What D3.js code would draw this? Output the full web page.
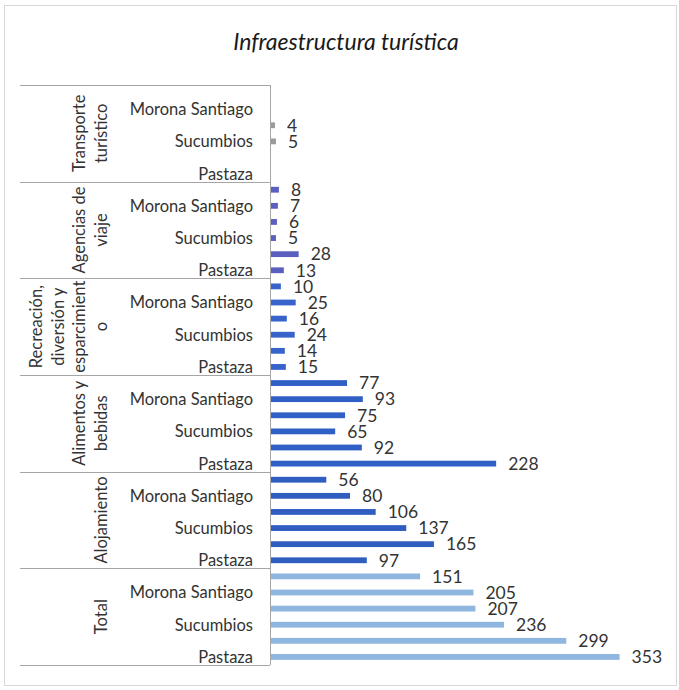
<!DOCTYPE html>
<html>
<head>
<meta charset="utf-8">
<script src="https://cdn.jsdelivr.net/npm/d3@7"></script>
<style>
  html, body { margin: 0; padding: 0; background: #fff; }
  svg { display: block; font-family: Lato, "Open Sans", sans-serif; }
</style>
</head>
<body>
<svg id="chart" width="679" height="690"></svg>
<script>
// ---- data ----
const title = "Infraestructura turística";
// groups from bottom to top
const groups = ["Total", "Alojamiento", "Alimentos y bebidas", "Recreación, diversión y esparcimiento", "Agencias de viaje", "Transporte turístico"];
// wrapped group labels as displayed
const groupLines = [["Total"], ["Alojamiento"], ["Alimentos y", "bebidas"], ["Recreación,", "diversión y", "esparcimient", "o"], ["Agencias de", "viaje"], ["Transporte", "turístico"]];
// province tick labels from bottom to top within each group (only alternate ones shown)
const provinceLabels = ["Pastaza", "", "Sucumbios", "", "Morona Santiago", ""];
// values per group, bottom to top
const totalVals       = [353, 299, 236, 207, 205, 151];
const alojamientoVals = [97, 165, 137, 106, 80, 56];
const alimentosVals   = [228, 92, 65, 75, 93, 77];
const recreacionVals  = [15, 14, 24, 16, 25, 10];
const agenciasVals    = [13, 28, 5, 6, 7, 8];
const transporteVals  = [null, null, 5, 4, null, null];
const seriesVals = [totalVals, alojamientoVals, alimentosVals, recreacionVals, agenciasVals, transporteVals];
const groupColors = ["#8fb6de", "#2f5dc0", "#3060c6", "#3763cb", "#5a5fc0", "#9a9a9a"];
const xMax = 400;

// ---- layout ----
const svg = d3.select("#chart");
const x0 = 270, x1 = 665, yTop = 85, yBot = 665, tableLeft = 20;

// rows from top to bottom
const rows = [];
for (let g = groups.length - 1; g >= 0; g--) {
  for (let p = provinceLabels.length - 1; p >= 0; p--) {
    rows.push({ key: g + "-" + p, g, p, value: seriesVals[g][p], label: provinceLabels[p] });
  }
}

const pin = 0.64;
const y = d3.scaleBand().domain(rows.map(d => d.key)).range([yTop, yBot]).paddingInner(pin).paddingOuter(pin / 2);
const x = d3.scaleLinear().domain([0, xMax]).range([x0, x1]);
const step = y.step();

// outer chart border
svg.append("rect").attr("x", 4.5).attr("y", 5.5).attr("width", 672).attr("height", 680)
  .attr("fill", "#fff").attr("stroke", "#d9d9d9");

// title
svg.append("text").attr("x", 346).attr("y", 50).attr("text-anchor", "middle")
  .attr("font-size", 23).attr("font-style", "italic").attr("fill", "#1a1a1a").text(title);

// table lines (group separators)
const groupTopY = g => y(((g) + "-" + (provinceLabels.length - 1))) - step * pin / 2;
const lineGroup = svg.append("g").attr("stroke", "#a6a6a6").attr("stroke-width", 1);
for (let g = 0; g < groups.length; g++) {
  const yy = Math.round(groupTopY(g)) + 0.5;
  lineGroup.append("line").attr("x1", tableLeft).attr("x2", x0).attr("y1", yy).attr("y2", yy);
}
lineGroup.append("line").attr("x1", tableLeft).attr("x2", x0).attr("y1", yBot + 0.5).attr("y2", yBot + 0.5);
lineGroup.append("line").attr("x1", x0 + 0.5).attr("x2", x0 + 0.5).attr("y1", yTop).attr("y2", yBot);

// bars
svg.append("g").selectAll("rect").data(rows.filter(d => d.value != null)).join("rect")
  .attr("x", x(0) + 1)
  .attr("y", d => y(d.key))
  .attr("width", d => x(d.value) - x(0))
  .attr("height", y.bandwidth())
  .attr("fill", d => groupColors[d.g]);

// value labels
svg.append("g").selectAll("text").data(rows.filter(d => d.value != null)).join("text")
  .attr("x", d => x(d.value) + 13)
  .attr("y", d => y(d.key) + y.bandwidth() / 2)
  .attr("dy", "0.36em")
  .attr("font-size", 17.5).attr("fill", "#333")
  .text(d => d.value);

// province labels
svg.append("g").selectAll("text").data(rows.filter(d => d.label)).join("text")
  .attr("x", 253)
  .attr("y", d => y(d.key) + y.bandwidth() / 2)
  .attr("dy", "0.36em")
  .attr("text-anchor", "end")
  .attr("font-size", 16.5).attr("fill", "#333")
  .text(d => d.label);

// group labels (rotated)
const gl = svg.append("g");
groups.forEach((name, g) => {
  const top = groupTopY(g);
  const cy = top + step * provinceLabels.length / 2;
  const lines = groupLines[g];
  lines.forEach((ln, i) => {
    const cx = 101 - (lines.length - 1 - i) * 21.5;
    gl.append("text")
      .attr("transform", `translate(${cx},${cy}) rotate(-90)`)
      .attr("text-anchor", "middle").attr("dy", "0.36em")
      .attr("font-size", 16.5).attr("fill", "#333")
      .text(ln);
  });
});
</script>
</body>
</html>
